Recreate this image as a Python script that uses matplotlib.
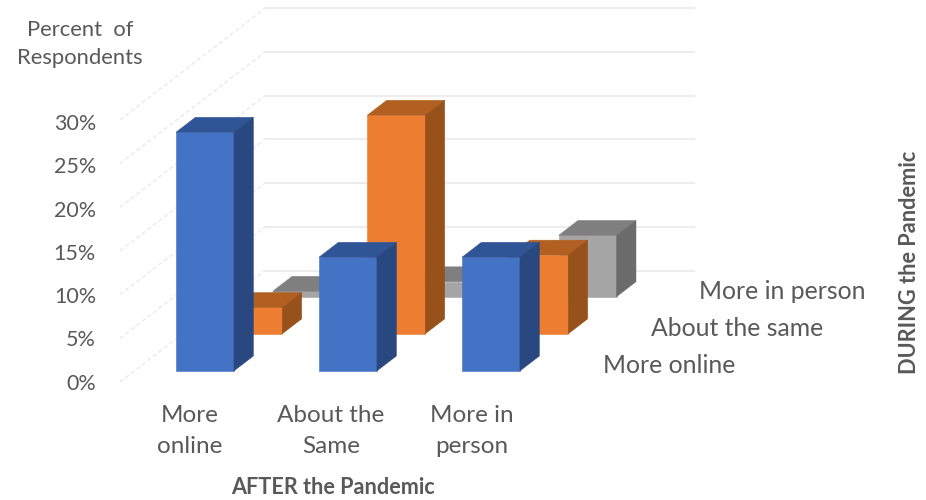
import matplotlib
matplotlib.use('Agg')
import matplotlib.pyplot as plt
from matplotlib.patches import Polygon

plt.rcParams['font.family'] = ['Lato', 'DejaVu Sans']

# categories along the front axis and the depth axis
after_labels = ['More\nonline', 'About the\nSame', 'More in\nperson']
during_labels = ['More online', 'About the same', 'More in person']
pct_ticks = [0, 5, 10, 15, 20, 25, 30]

# percent of respondents, one list per depth row
more_online = [27.3, 13.0, 13.0]
about_same = [3.0, 25.0, 9.0]
more_in_person = [0.6, 1.7, 7.0]

# oblique projection: one depth row moves this far in x units and percent
SHIFT_X = 0.338
SHIFT_Y = 4.25
BAR_W = 0.405
BAR_D = 0.4
PAD = 0.3
TEXT_C = '#595959'

PX_X = 143.0
PX_Y = 8.74


def proj(x, pct, t):
    return (x + t * SHIFT_X, pct + t * SHIFT_Y)


def draw_bar(ax, col, row, value, front, top, side):
    x0 = col + (1 - BAR_W) / 2 - 0.007
    x1 = x0 + BAR_W
    t0 = row + PAD
    t1 = t0 + BAR_D
    faces = [
        ([(x0, 0, t0), (x1, 0, t0), (x1, value, t0), (x0, value, t0)], front),
        ([(x0, value, t0), (x1, value, t0), (x1, value, t1), (x0, value, t1)], top),
        ([(x1, 0, t0), (x1, 0, t1), (x1, value, t1), (x1, value, t0)], side),
    ]
    for pts, c in faces:
        ax.add_patch(Polygon([proj(*p) for p in pts], closed=True, facecolor=c,
                             edgecolor=c, lw=0.4, zorder=5))


fig = plt.figure(figsize=(9.26, 5), dpi=100)
ax = fig.add_axes([0, 0, 1, 1])
ax.set_xlim(-120 / PX_X, (926 - 120) / PX_X)
ax.set_ylim((382 - 500) / PX_Y, 382 / PX_Y)
ax.axis('off')

# walls
n_cols = len(after_labels)
n_rows = len(during_labels)
for p in pct_ticks:
    a = proj(0, p, 0)
    b = proj(0, p, n_rows)
    c = proj(n_cols, p, n_rows)
    ax.plot([a[0], b[0]], [a[1], b[1]], color='#EAEAEA', lw=1, ls=(0, (3, 2)), zorder=1)
    ax.plot([b[0], c[0]], [b[1], c[1]], color='#EDEDED', lw=1.5, zorder=1)

rows = [
    (2, more_in_person, '#A5A5A5', '#7F7F7F', '#6B6B6B'),
    (1, about_same, '#ED7D31', '#B25F22', '#97511B'),
    (0, more_online, '#4472C4', '#2F5597', '#2A4880'),
]
for row, values, front, top, side in rows:
    for col, v in enumerate(values):
        draw_bar(ax, col, row, v, front, top, side)

# tick labels
for p in pct_ticks:
    ax.text(-24 / PX_X, p * 0.99 - 0.2, f'{p}%', ha='right', va='center', fontsize=15.5,
            color=TEXT_C)
for i, lab in enumerate(after_labels):
    ax.text(i * 0.985 + 0.49, -5.65, lab, ha='center', va='center', fontsize=17.5,
            color=TEXT_C, linespacing=1.58)
for i, lab in enumerate(during_labels):
    x, y = proj(n_cols, 0, i + 0.5)
    ax.text(x + 0.207, y - 0.25, lab, ha='left', va='center', fontsize=17.8, color=TEXT_C)

ax.text(-40 / PX_X, 38.7, 'Percent  of\nRespondents', ha='center', va='center',
        fontsize=15.8, color=TEXT_C, linespacing=1.5)
ax.text(213 / PX_X, -12.1, 'AFTER the Pandemic', ha='center', va='center',
        fontsize=15.6, fontweight='bold', color=TEXT_C)
ax.text(789 / PX_X, 13.7, 'DURING the Pandemic', ha='center', va='center', rotation=90,
        fontsize=15.7, fontweight='bold', color=TEXT_C)

fig.savefig('out.png', dpi=100)
